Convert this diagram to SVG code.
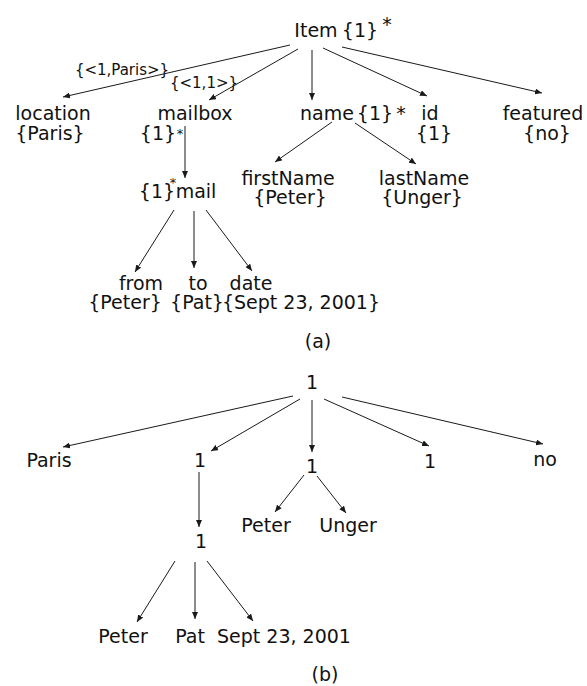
<svg xmlns="http://www.w3.org/2000/svg" width="587" height="686" viewBox="0 0 587 686">
  <style>
    text { font-family: "DejaVu Sans", "Liberation Sans", sans-serif; font-size: 19px; fill: #111111; text-anchor: middle; }
    .lbl { font-size: 15px; }
    .st { font-size: 13px; }
    .edge { stroke: #1a1a1a; stroke-width: 1; fill: none; marker-end: url(#ah); }
  </style>
  <defs>
    <marker id="ah" markerUnits="userSpaceOnUse" markerWidth="8" markerHeight="6" refX="7" refY="3" orient="auto">
      <path d="M0,0 L7,3 L0,6 z" fill="#1a1a1a"/>
    </marker>
  </defs>
  <rect width="587" height="686" fill="#ffffff"/>

  <!-- tree (a): schema with value sets -->
  <g id="a-item">
    <text x="316" y="37">Item</text>
    <text x="360" y="37">{1}</text>
    <text x="387" y="31">*</text>
  </g>
  <g id="a-location">
    <text x="53" y="120">location</text>
    <text x="50" y="140">{Paris}</text>
  </g>
  <g id="a-mailbox">
    <text x="195" y="120">mailbox</text>
    <text x="158" y="140">{1}</text>
    <text class="st" x="180" y="138">*</text>
  </g>
  <g id="a-name">
    <text x="327" y="120">name</text>
    <text x="375" y="120">{1}</text>
    <text x="401" y="120">*</text>
  </g>
  <g id="a-id">
    <text x="430" y="120">id</text>
    <text x="434" y="140">{1}</text>
  </g>
  <g id="a-featured">
    <text x="543" y="120">featured</text>
    <text x="547" y="140">{no}</text>
  </g>
  <g id="a-mail">
    <text x="157" y="198">{1}</text>
    <text class="st" x="173" y="187">*</text>
    <text x="196" y="198">mail</text>
  </g>
  <g id="a-firstName">
    <text x="288" y="185">firstName</text>
    <text x="290" y="204">{Peter}</text>
  </g>
  <g id="a-lastName">
    <text x="424" y="185">lastName</text>
    <text x="422" y="204">{Unger}</text>
  </g>
  <g id="a-from">
    <text x="141" y="290">from</text>
    <text x="125" y="309">{Peter}</text>
  </g>
  <g id="a-to">
    <text x="198" y="290">to</text>
    <text x="197" y="309">{Pat}</text>
  </g>
  <g id="a-date">
    <text x="251" y="290">date</text>
    <text x="301" y="309">{Sept 23, 2001}</text>
  </g>
  <g id="a-edge-labels">
    <text class="lbl" x="122" y="75">{&lt;1,Paris&gt;}</text>
    <text class="lbl" x="204" y="88">{&lt;1,1&gt;}</text>
  </g>
  <text id="caption-a" x="318" y="348">(a)</text>

  <!-- tree (b): data instance -->
  <g id="b-root"><text x="312" y="389">1</text></g>
  <g id="b-paris"><text x="49" y="467">Paris</text></g>
  <g id="b-mailbox"><text x="200" y="467">1</text></g>
  <g id="b-name"><text x="312" y="473">1</text></g>
  <g id="b-id"><text x="430" y="468">1</text></g>
  <g id="b-no"><text x="545" y="466">no</text></g>
  <g id="b-first"><text x="266" y="532">Peter</text></g>
  <g id="b-last"><text x="348" y="532">Unger</text></g>
  <g id="b-mail"><text x="201" y="548">1</text></g>
  <g id="b-from"><text x="123" y="643">Peter</text></g>
  <g id="b-to"><text x="190" y="643">Pat</text></g>
  <g id="b-date"><text x="284" y="643">Sept 23, 2001</text></g>
  <text id="caption-b" x="325" y="681">(b)</text>

  <g id="connectors">
    <!-- tree (a) -->
    <line class="edge" x1="290" y1="45" x2="63" y2="97"/>
    <line class="edge" x1="298" y1="49" x2="209" y2="100"/>
    <line class="edge" x1="312" y1="50" x2="312" y2="100"/>
    <line class="edge" x1="323" y1="48" x2="427" y2="96"/>
    <line class="edge" x1="342" y1="47" x2="542" y2="93"/>
    <line class="edge" x1="185" y1="126" x2="185" y2="178"/>
    <line class="edge" x1="332" y1="122" x2="275" y2="162"/>
    <line class="edge" x1="355" y1="123" x2="416" y2="164"/>
    <line class="edge" x1="174" y1="210" x2="135" y2="272"/>
    <line class="edge" x1="194" y1="211" x2="194" y2="268"/>
    <line class="edge" x1="206" y1="210" x2="252" y2="271"/>
    <!-- tree (b) -->
    <line class="edge" x1="293" y1="396" x2="63" y2="447"/>
    <line class="edge" x1="300" y1="399" x2="211" y2="451"/>
    <line class="edge" x1="312" y1="400" x2="312" y2="452"/>
    <line class="edge" x1="324" y1="399" x2="429" y2="446"/>
    <line class="edge" x1="342" y1="397" x2="543" y2="444"/>
    <line class="edge" x1="199" y1="472" x2="199" y2="527"/>
    <line class="edge" x1="304" y1="475" x2="275" y2="512"/>
    <line class="edge" x1="317" y1="476" x2="346" y2="513"/>
    <line class="edge" x1="175" y1="561" x2="137" y2="622"/>
    <line class="edge" x1="195" y1="562" x2="195" y2="619"/>
    <line class="edge" x1="207" y1="561" x2="253" y2="621"/>
  </g>
</svg>
